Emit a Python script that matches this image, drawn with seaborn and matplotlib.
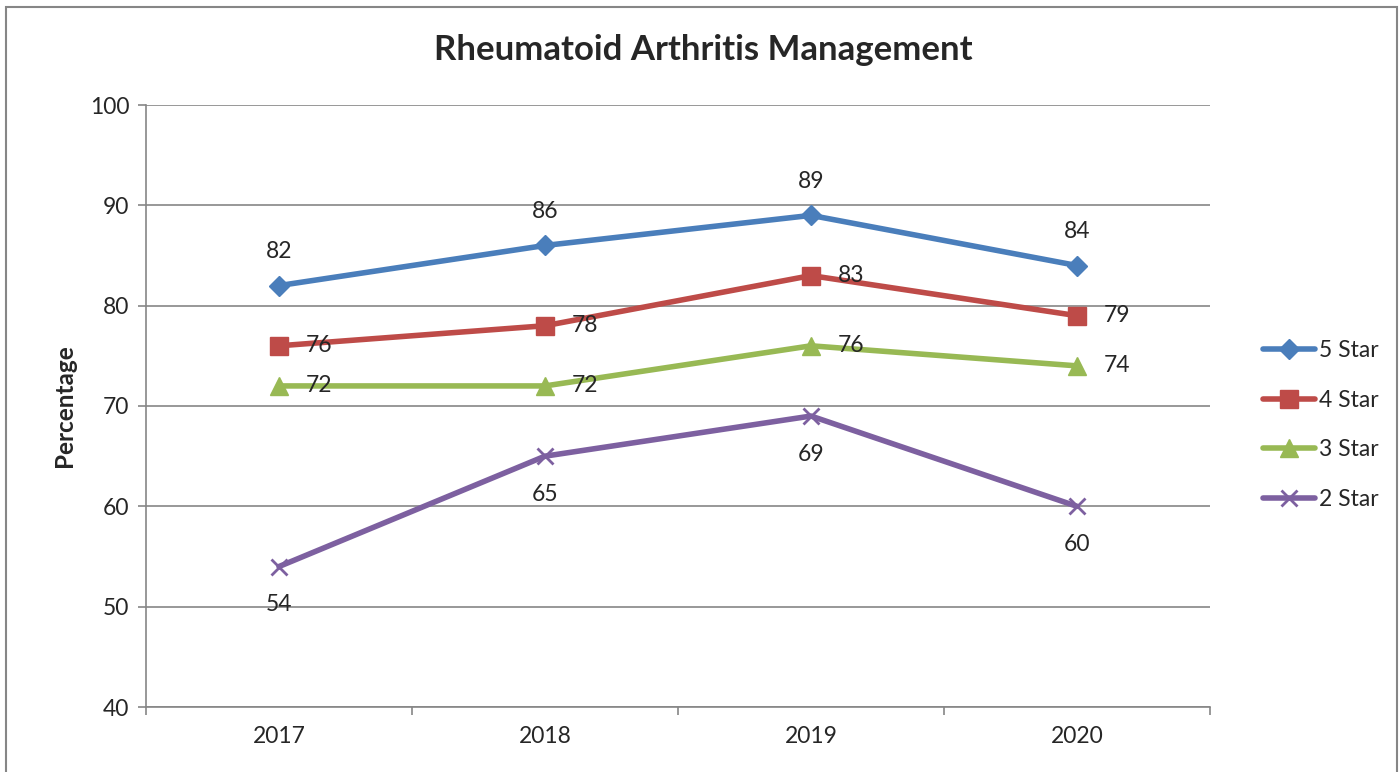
import matplotlib
matplotlib.use("Agg")
import matplotlib.pyplot as plt
import seaborn as sns
import pandas as pd
from matplotlib.patches import Rectangle
from matplotlib.lines import Line2D

years = ["2017", "2018", "2019", "2020"]
star5 = [82, 86, 89, 84]
star4 = [76, 78, 83, 79]
star3 = [72, 72, 76, 74]
star2 = [54, 65, 69, 60]
series_names = ["5 Star", "4 Star", "3 Star", "2 Star"]
title = "Rheumatoid Arthritis Management"
ylabel = "Percentage"

sns.set_theme(style="white")
plt.rcParams['font.family'] = ['Lato', 'DejaVu Sans']

colors = ["#4A7EBB", "#BE4B48", "#98B954", "#7D60A0"]
markers = ["D", "s", "^", "x"]
msizes = [10, 13, 13, 12]
label_pos = ["above", "right", "right", "below"]
FS = 16.5

rows = []
for name, vals in zip(series_names, [star5, star4, star3, star2]):
    for i, (y, v) in enumerate(zip(years, vals)):
        rows.append({"idx": i, "Year": y, "Value": v, "Series": name})
df = pd.DataFrame(rows)

fig = plt.figure(figsize=(14, 7.72), dpi=100)
ax = fig.add_axes([146/1400, 1-707/772, (1210-146)/1400, (707-105)/772])

for name, c, m, ms, pos in zip(series_names, colors, markers, msizes, label_pos):
    sub = df[df.Series == name]
    sns.lineplot(data=sub, x="idx", y="Value", ax=ax, color=c, linewidth=4,
                 marker=m, markersize=ms, markeredgecolor=c,
                 markeredgewidth=2 if m == "x" else 1, legend=False)
    for _, r in sub.iterrows():
        if pos == "above":
            ax.annotate(str(r.Value), (r.idx, r.Value), xytext=(0, 17), textcoords="offset points",
                        ha="center", va="bottom", fontsize=FS)
        elif pos == "below":
            ax.annotate(str(r.Value), (r.idx, r.Value), xytext=(0, -20), textcoords="offset points",
                        ha="center", va="top", fontsize=FS)
        else:
            ax.annotate(str(r.Value), (r.idx, r.Value), xytext=(19, 0), textcoords="offset points",
                        ha="left", va="center", fontsize=FS)

ax.set_xlim(-0.5, 3.5)
ax.set_ylim(40, 100)
ax.set_yticks(range(40, 101, 10))
ax.set_xticks(range(len(years)))
ax.set_xticklabels(years)
ax.set_xticks([-0.5, 0.5, 1.5, 2.5, 3.5], minor=True)
ax.tick_params(axis="x", which="major", length=0, labelsize=FS, pad=14)
ax.tick_params(axis="x", which="minor", length=6, color="#868686", width=1.2, direction="out")
ax.tick_params(axis="y", length=6, color="#868686", width=1.2, direction="out", labelsize=FS, pad=6)
ax.xaxis.set_tick_params(bottom=True, which="minor")
ax.yaxis.set_tick_params(left=True)
ax.grid(axis="y", color="#868686", linewidth=1.2)
ax.set_axisbelow(True)
for s in ["top", "right"]:
    ax.spines[s].set_visible(False)
for s in ["left", "bottom"]:
    ax.spines[s].set_color("#868686")
    ax.spines[s].set_linewidth(1.2)
ax.set_xlabel("")
ax.set_ylabel(ylabel, fontsize=17.5, fontweight="bold", labelpad=10)

fig.text(703/1400, 1-50/772, title, ha="center", va="center", fontsize=25, fontweight="bold")

handles = [Line2D([0], [0], color=c, lw=4, marker=m, markersize=ms, markeredgecolor=c,
                  markeredgewidth=2 if m == "x" else 1)
           for c, m, ms in zip(colors, markers, msizes)]
fig.legend(handles, series_names, loc="center left", bbox_to_anchor=(1242/1400, 1-425/772),
           frameon=False, fontsize=FS, handlelength=2.3, handletextpad=0.15, labelspacing=1.25)

fig.add_artist(Rectangle((6/1400, -0.05), (1397-6)/1400, 1.05-7/772, transform=fig.transFigure,
                         fill=False, edgecolor="#868686", linewidth=1.5))

fig.savefig("out.png", dpi=100)
